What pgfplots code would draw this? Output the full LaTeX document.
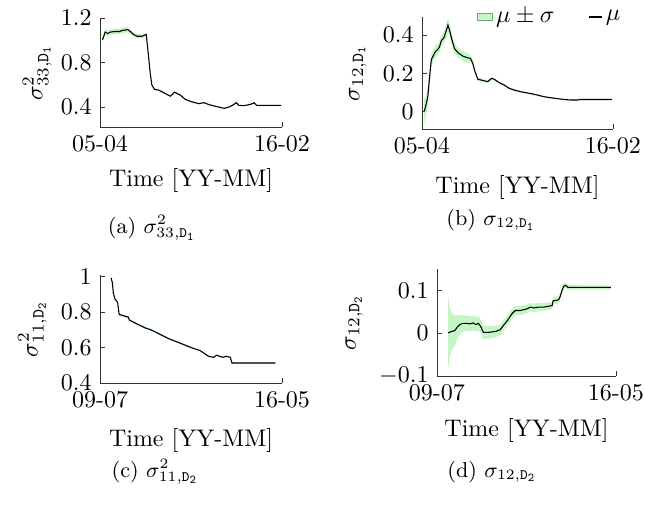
\documentclass[border=0pt]{standalone}
\usepackage{pgfplots}
\pgfplotsset{compat=1.18}
\usepackage{pgfplotstable}

\definecolor{bandgreen}{RGB}{198,246,198}
\definecolor{bandedge}{RGB}{110,170,110}

% x = position along the time axis (0 = first tick, 100 = last tick)
% m = mean, s = standard deviation
\pgfplotstableread{
x m s
1.3 1.006 0.020
1.8 1.021 0.025
2.8 1.073 0.030
4.2 1.061 0.025
5.5 1.073 0.025
8.3 1.079 0.025
11.0 1.079 0.025
12.0 1.088 0.025
13.8 1.091 0.025
15.1 1.097 0.025
16.6 1.079 0.022
18.4 1.052 0.020
20.3 1.036 0.018
23.0 1.036 0.018
24.9 1.048 0.018
25.4 1.052 0.015
26.3 0.915 0.012
27.6 0.703 0.010
28.5 0.597 0.008
30.0 0.558 0.008
32.2 0.552 0.008
35.9 0.521 0.008
38.7 0.497 0.007
40.9 0.533 0.007
44.2 0.506 0.007
47.0 0.467 0.006
50.7 0.445 0.006
54.3 0.430 0.005
57.1 0.439 0.005
59.9 0.421 0.005
63.5 0.406 0.005
68.2 0.388 0.005
70.9 0.400 0.005
72.8 0.415 0.005
75.0 0.439 0.005
76.1 0.415 0.004
79.2 0.412 0.004
82.0 0.421 0.004
83.8 0.430 0.004
84.7 0.439 0.004
86.0 0.415 0.004
99.5 0.415 0.004
}\dataA

\pgfplotstableread{
x m s
1.0 0.000 0.070
1.4 0.009 0.060
2.3 0.043 0.050
3.1 0.082 0.045
4.0 0.183 0.040
4.9 0.273 0.035
5.7 0.287 0.030
7.0 0.313 0.030
8.3 0.325 0.030
9.2 0.339 0.030
10.1 0.370 0.030
11.5 0.386 0.030
12.7 0.423 0.035
13.6 0.452 0.035
14.4 0.426 0.030
15.7 0.374 0.030
17.0 0.330 0.028
18.8 0.308 0.025
21.4 0.290 0.025
23.7 0.282 0.025
25.4 0.278 0.020
26.6 0.252 0.015
27.5 0.217 0.012
29.2 0.170 0.010
31.0 0.165 0.008
34.4 0.157 0.008
36.5 0.174 0.007
37.9 0.169 0.007
40.5 0.151 0.006
43.1 0.139 0.006
45.7 0.122 0.005
48.3 0.113 0.005
51.8 0.104 0.005
56.2 0.096 0.004
60.5 0.087 0.004
64.0 0.078 0.004
67.5 0.073 0.004
71.0 0.068 0.003
74.4 0.064 0.003
77.9 0.061 0.003
81.4 0.061 0.003
83.1 0.064 0.003
86.6 0.064 0.003
99.5 0.064 0.003
}\dataB

\pgfplotstableread{
x m s
6.1 0.994 0.004
6.8 0.966 0.005
7.3 0.909 0.006
8.3 0.872 0.006
9.2 0.862 0.006
9.7 0.853 0.007
10.5 0.787 0.008
11.9 0.783 0.008
13.8 0.777 0.007
15.6 0.772 0.007
16.1 0.755 0.007
17.4 0.749 0.007
20.2 0.734 0.006
22.9 0.721 0.006
24.8 0.711 0.006
27.5 0.702 0.006
30.3 0.689 0.006
33.9 0.670 0.006
37.6 0.651 0.005
41.3 0.636 0.005
45.0 0.621 0.005
48.6 0.606 0.005
52.3 0.592 0.005
55.0 0.583 0.005
56.9 0.570 0.005
59.6 0.551 0.004
62.4 0.545 0.004
64.2 0.557 0.004
66.1 0.549 0.004
67.9 0.545 0.004
69.2 0.551 0.004
71.6 0.545 0.004
72.5 0.513 0.004
96.3 0.513 0.004
}\dataC

\pgfplotstableread{
x m s
6.2 0.001 0.088
7.0 0.002 0.060
8.1 0.004 0.045
9.9 0.006 0.035
11.3 0.014 0.028
12.8 0.020 0.022
14.3 0.023 0.020
16.5 0.023 0.018
18.4 0.022 0.018
20.3 0.024 0.017
21.8 0.020 0.017
23.1 0.023 0.017
24.4 0.016 0.016
25.9 0.002 0.016
28.7 0.002 0.015
32.5 0.004 0.014
35.3 0.008 0.013
37.1 0.018 0.013
39.4 0.030 0.012
41.8 0.045 0.012
43.7 0.053 0.011
46.5 0.053 0.011
50.3 0.057 0.010
52.2 0.061 0.010
54.0 0.059 0.010
56.8 0.061 0.010
59.7 0.061 0.009
62.5 0.063 0.009
64.4 0.065 0.009
64.9 0.076 0.009
67.2 0.077 0.008
68.1 0.079 0.008
69.0 0.088 0.008
70.0 0.102 0.007
70.9 0.110 0.007
71.9 0.112 0.006
73.2 0.107 0.006
78.4 0.107 0.005
97.2 0.107 0.005
}\dataD

\pgfplotsset{
  panel/.style={
    scale only axis,
    axis lines=left,
    axis line style={-, black!80},
    every tick/.style={black!80},
    tick align=inside,
    major tick length=2pt,
    xmin=0, xmax=100,
    xtick={0,100},
    xlabel={Time [YY-MM]},
  },
}

% band (mean +- sd, stacked) and mean line from one table
\newcommand{\bandplot}[1]{%
  \addplot[draw=none, stack plots=y, forget plot] table[x=x, y expr=\thisrow{m}-\thisrow{s}] {#1};
  \addplot[fill=bandgreen, draw=none, stack plots=y, area legend,
    legend image code/.code={\draw[bandedge, fill=bandgreen] (0pt,-1.3pt) rectangle (6.5pt,1.3pt);}]
    table[x=x, y expr=2*\thisrow{s}] {#1} \closedcycle;
  \addplot[black, line width=0.45pt, stack plots=false,
    legend image code/.code={\draw[black, line width=0.45pt] (0pt,0pt) -- (5.5pt,0pt);}]
    table[x=x, y=m] {#1};
}

\begin{document}
\begin{tikzpicture}
\path[use as bounding box] (0pt,0pt) rectangle (268.75pt,-210.83pt);

% (a)
\begin{axis}[panel,
  at={(41.67pt,-52.92pt)}, anchor=south west,
  width=75.83pt, height=45.42pt,
  ymin=0.22, ymax=1.2,
  ytick={0.4,0.8,1.2},
  xticklabels={05-04,16-02},
  ylabel={$\sigma^2_{33,\mathtt{D}_\mathtt{1}}$},
  ylabel shift=-3pt,
]
\bandplot{\dataA}
\end{axis}

% (b)
\begin{axis}[panel,
  at={(175.83pt,-53.75pt)}, anchor=south west,
  width=79.58pt, height=46.67pt,
  ymin=-0.09, ymax=0.494,
  ytick={0,0.2,0.4},
  xticklabels={05-04,16-02},
  xlabel style={yshift=-2pt},
  ylabel={$\sigma_{12,\mathtt{D}_\mathtt{1}}$},
  legend style={draw=none, fill=none, at={(0.67,1.0)}, anchor=center,
    legend columns=2, inner sep=0pt,
    /tikz/every even column/.append style={column sep=13pt},
    nodes={inner sep=1.2pt}},
]
\bandplot{\dataB}
\legend{$\mu\pm\sigma$, $\mu$}
\end{axis}

% (c)
\begin{axis}[panel,
  at={(41.67pt,-159.58pt)}, anchor=south west,
  width=75.83pt, height=45pt,
  ymin=0.4, ymax=1.01,
  ytick={0.4,0.6,0.8,1},
  xticklabels={09-07,16-05},
  xlabel style={yshift=-1.5pt},
  ylabel={$\sigma^2_{11,\mathtt{D}_\mathtt{2}}$},
  ylabel shift=-1pt,
]
\bandplot{\dataC}
\end{axis}

% (d)
\begin{axis}[panel,
  at={(182.08pt,-156.67pt)}, anchor=south west,
  width=74.58pt, height=44.58pt,
  ymin=-0.1, ymax=0.15,
  ytick={-0.1,0,0.1},
  xticklabels={09-07,16-05},
  xlabel style={yshift=-0.5pt},
  ylabel={$\sigma_{12,\mathtt{D}_\mathtt{2}}$},
]
\bandplot{\dataD}
\end{axis}

% sub-captions
\node[font=\small] at (63.3pt,-95.0pt) {(a) $\sigma^2_{33,\mathtt{D}_\mathtt{1}}$};
\node[font=\small] at (204.6pt,-91.7pt) {(b) $\sigma_{12,\mathtt{D}_\mathtt{1}}$};
\node[font=\small] at (64.6pt,-196.5pt) {(c) $\sigma^2_{11,\mathtt{D}_\mathtt{2}}$};
\node[font=\small] at (205.0pt,-196.5pt) {(d) $\sigma_{12,\mathtt{D}_\mathtt{2}}$};
\end{tikzpicture}
\end{document}
